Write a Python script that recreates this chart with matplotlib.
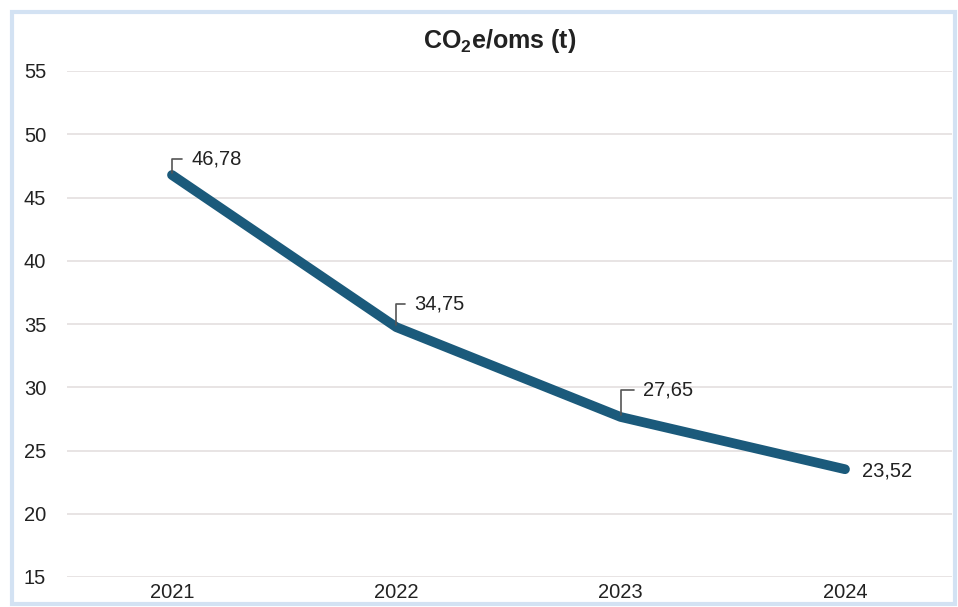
import matplotlib
matplotlib.use("Agg")
import matplotlib.pyplot as plt
from matplotlib.patches import Rectangle

# chart data
years = ["2021", "2022", "2023", "2024"]
co2_per_oms = [46.78, 34.75, 27.65, 23.52]
value_labels = ["46,78", "34,75", "27,65", "23,52"]
y_ticks = [15, 20, 25, 30, 35, 40, 45, 50, 55]

# label placement (offset points from each point)
label_offsets = [(14, 11.5), (13, 17), (16, 19.5), (12, -1)]

plt.rcParams["font.family"] = ["Liberation Sans", "DejaVu Sans"]
plt.rcParams["mathtext.fontset"] = "custom"
plt.rcParams["mathtext.rm"] = "Liberation Sans"
plt.rcParams["mathtext.bf"] = "Liberation Sans:bold"

fig = plt.figure(figsize=(9.58, 6.07), dpi=100)
ax = fig.add_axes([67/958, 1 - 577/607, (952 - 67)/958, (577 - 71)/607])

# light blue frame round the chart
fig.patches.append(Rectangle((12/958, 3/607), (955 - 12)/958, (595 - 3)/607,
                             transform=fig.transFigure, fill=False,
                             edgecolor="#d3e2f3", linewidth=3))

xs = list(range(len(years)))
line_col = "#1b5a7b"
ax.plot(xs, co2_per_oms, color=line_col, linewidth=7, solid_capstyle="round",
        solid_joinstyle="round", zorder=3)

fs = 14.5
# data labels, first three with bracket leaders
for i, (v, lab) in enumerate(zip(co2_per_oms, value_labels)):
    if i < 3:
        ax.annotate(lab, xy=(i, v), xytext=label_offsets[i], textcoords="offset points",
                    fontsize=fs, color="#222222", va="center", ha="left",
                    arrowprops=dict(arrowstyle="-", color="#555555", lw=1.2,
                                    connectionstyle="angle,angleA=0,angleB=90,rad=0",
                                    relpos=(0, 0.5), shrinkA=4.5, shrinkB=1.5))
    else:
        ax.annotate(lab, xy=(i, v), xytext=label_offsets[i], textcoords="offset points",
                    fontsize=fs, color="#222222", va="center", ha="left")

ax.set_xlim(-0.468, 3.477)
ax.set_ylim(15, 55)
ax.set_yticks(y_ticks)
ax.set_xticks(xs)
ax.set_xticklabels(years)
ax.grid(axis="y", color="#e8e4e4", linewidth=1.4)
ax.set_axisbelow(True)
for s in ax.spines.values():
    s.set_visible(False)
ax.tick_params(length=0, labelsize=fs, labelcolor="#222222")
ax.tick_params(axis="y", pad=15)
ax.tick_params(axis="x", pad=4)

fig.text(500/958, 1 - 41/607, r"CO$_\mathbf{2}$e/oms (t)", ha="center", va="center",
         fontsize=18, fontweight="bold", color="#222222")

plt.savefig("out.png", dpi=100)
